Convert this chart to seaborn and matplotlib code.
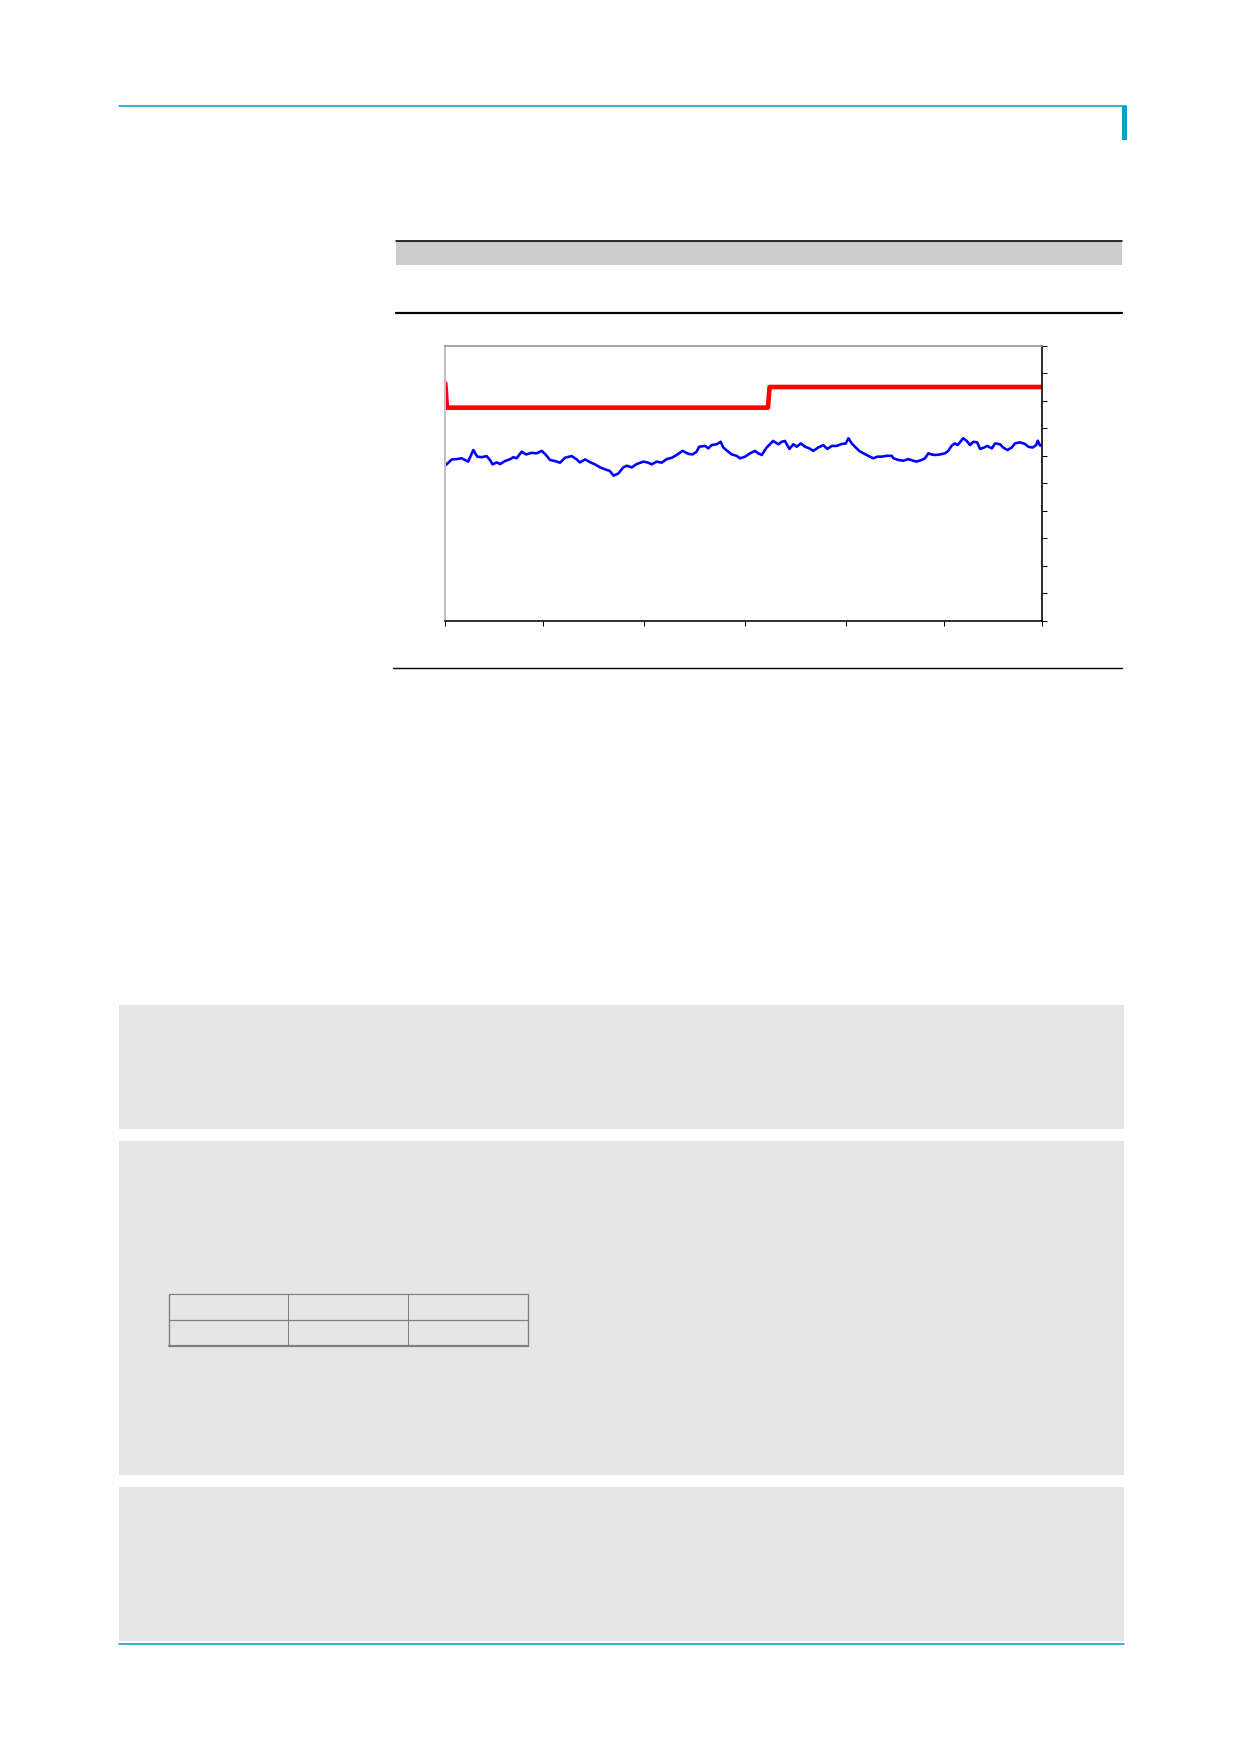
import matplotlib
matplotlib.use("Agg")
import matplotlib.pyplot as plt
import seaborn as sns
import pandas as pd
from matplotlib.patches import Rectangle
from matplotlib.lines import Line2D

# ---------------- data ----------------
x_ticks = [0, 30, 61, 92, 123, 153, 183]
y_ticks = [0, 1, 2, 3, 4, 5, 6, 7, 8, 9, 10]

red_days = [0, 0.5, 99.0, 99.5, 183]
red_vals = [8.63, 7.75, 7.75, 8.50, 8.50]

blue_days = [0.2, 2, 3.5, 5, 7, 8.6, 9.8, 11.2, 12.7, 13.7, 14.5, 15.8, 16.8, 18.3, 19.9,
             20.9, 21.9, 23.4, 24.8, 26.5, 28.0, 29.6, 30.9, 32.1, 33.7, 35.2, 36.7, 38.8,
             40.3, 41.3, 42.9, 44.4, 45.9, 47.5, 49.0, 50.5, 51.6, 53.1, 54.6, 55.7, 57.2,
             58.7, 60.8, 62.3, 63.3, 64.9, 66.4, 67.9, 69.5, 71.0, 72.8, 74.6, 75.9, 77.1,
             77.9, 79.7, 80.7, 81.7, 83.3, 84.5, 85.3, 86.5, 87.9, 89.4, 90.4, 92.0, 93.5,
             95.0, 96.0, 97.1, 98.6, 100.6, 102.2, 103.2, 104.2, 105.6, 106.8, 107.8, 109.1,
             110.4, 111.7, 112.9, 114.4, 116.0, 117.2, 118.6, 120.1, 121.6, 122.9, 123.7,
             124.7, 125.7, 127.0, 128.3, 129.8, 131.3, 132.6, 133.9, 135.4, 137.0, 137.5,
             139.0, 140.5, 142.1, 143.6, 144.6, 146.2, 147.2, 148.2, 149.2, 150.3, 151.8,
             153.3, 154.3, 155.4, 156.4, 157.2, 157.9, 158.9, 160.0, 161.0, 162.0, 163.2,
             164.1, 165.3, 166.3, 167.7, 168.7, 170.2, 171.2, 172.5, 173.8, 174.8, 176.3,
             177.9, 178.9, 180.2, 181.3, 181.8, 182.5, 183.0]
blue_vals = [5.67, 5.87, 5.88, 5.91, 5.79, 6.21, 5.97, 5.95, 5.99, 5.85, 5.69, 5.76, 5.70, 5.81, 5.88,
             5.95, 5.91, 6.15, 6.05, 6.11, 6.09, 6.18, 6.03, 5.85, 5.81, 5.75, 5.93, 5.99,
             5.87, 5.76, 5.87, 5.77, 5.69, 5.58, 5.51, 5.45, 5.28, 5.36, 5.58, 5.64, 5.58,
             5.70, 5.79, 5.75, 5.69, 5.79, 5.75, 5.88, 5.93, 6.03, 6.18, 6.07, 6.05, 6.15,
             6.33, 6.36, 6.27, 6.39, 6.42, 6.51, 6.30, 6.18, 6.05, 6.00, 5.91, 5.97, 6.09,
             6.18, 6.09, 6.03, 6.30, 6.54, 6.42, 6.51, 6.54, 6.25, 6.42, 6.33, 6.45,
             6.33, 6.27, 6.18, 6.30, 6.39, 6.25, 6.36, 6.36, 6.43, 6.45, 6.64,
             6.45, 6.33, 6.18, 6.09, 6.00, 5.91, 5.97, 5.97, 6.00, 6.00, 5.91,
             5.85, 5.82, 5.88, 5.82, 5.79, 5.85, 5.91, 6.09, 6.05, 6.03, 6.05,
             6.09, 6.18, 6.37, 6.45, 6.39, 6.49, 6.64, 6.54, 6.39, 6.51, 6.49,
             6.25, 6.30, 6.36, 6.27, 6.45, 6.42, 6.30, 6.21, 6.30, 6.45, 6.49,
             6.43, 6.33, 6.30, 6.39, 6.55, 6.37, 6.39]

# ---------------- figure ----------------
sns.set_style("white")
W, H = 1240, 1754
fig = plt.figure(figsize=(W / 100, H / 100), dpi=100)

PX = 0.72  # points per pixel

# page decoration layer in pixel coordinates
bg = fig.add_axes([0, 0, 1, 1], zorder=0)
bg.set_xlim(0, W)
bg.set_ylim(H, 0)
bg.axis("off")

cyan = "#0aa0c8"
# top rule and right marker
bg.add_line(Line2D([119, 1126], [106, 106], color=cyan, lw=1.6 * PX))
bg.add_patch(Rectangle((1122, 106), 4.5, 34, color=cyan, lw=0))
# grey header band with black top rule
bg.add_patch(Rectangle((396, 240.5), 726, 24, color="#cccccc", lw=0))
bg.add_line(Line2D([396, 1122], [240.5, 240.5], color="black", lw=1.6 * PX))
bg.add_line(Line2D([396, 1122], [312.5, 312.5], color="black", lw=2.2 * PX))
bg.add_line(Line2D([393, 1122], [667.5, 667.5], color="black", lw=1.4 * PX))
# grey boxes
for top, bot in [(1004.5, 1128.5), (1141, 1474.5), (1487, 1641)]:
    bg.add_patch(Rectangle((119, top), 1005, bot - top, color="#e6e6e6", lw=0))
# small table in second box
tcol = "#808080"
tx = [168.5, 288, 408, 527.5]
ty = [1293.5, 1319.5, 1346]
for yy in ty[:2]:
    bg.add_line(Line2D([tx[0], tx[-1]], [yy, yy], color=tcol, lw=1.2 * PX))
bg.add_line(Line2D([tx[0], tx[-1]], [ty[2], ty[2]], color=tcol, lw=2.2 * PX))
for i, xx in enumerate(tx):
    bg.add_line(Line2D([xx, xx], [ty[0], ty[2]], color=tcol,
                       lw=(1.4 if i in (0, 3) else 1.0) * PX))
# bottom rule
bg.add_line(Line2D([119, 1124], [1644, 1644], color=cyan, lw=1.6 * PX))

# ---------------- chart ----------------
left, right, top, bottom = 445.3, 1041.7, 345.7, 621.0
ax = fig.add_axes([left / W, 1 - bottom / H, (right - left) / W, (bottom - top) / H], zorder=2)
ax.patch.set_alpha(0)

blue_df = pd.DataFrame({"day": blue_days, "value": blue_vals})
red_df = pd.DataFrame({"day": red_days, "value": red_vals})
sns.lineplot(data=blue_df, x="day", y="value", ax=ax, color="#0000ff", lw=2.6 * PX,
             estimator=None, sort=False)
sns.lineplot(data=red_df, x="day", y="value", ax=ax, color="#ff0000", lw=4.6 * PX,
             estimator=None, sort=False)

ax.set_xlim(0, 183)
ax.set_ylim(0, 10)
ax.set_xticks(x_ticks)
ax.set_yticks(y_ticks)
ax.yaxis.tick_right()
ax.tick_params(axis="both", direction="out", length=4.5 * PX, width=1.0 * PX,
               color="black", bottom=True, right=True, left=False, top=False,
               labelbottom=False, labelright=False, labelleft=False)
ax.set_xlabel("")
ax.set_ylabel("")
for side in ["left", "top", "right", "bottom"]:
    ax.spines[side].set_visible(True)
ax.spines["left"].set_color("#c0c0c0")
ax.spines["left"].set_linewidth(2.0 * PX)
ax.spines["top"].set_color("#909090")
ax.spines["top"].set_linewidth(1.6 * PX)
ax.spines["right"].set_color("black")
ax.spines["right"].set_linewidth(1.6 * PX)
ax.spines["bottom"].set_color("black")
ax.spines["bottom"].set_linewidth(1.6 * PX)

fig.savefig("out.png", dpi=100)
